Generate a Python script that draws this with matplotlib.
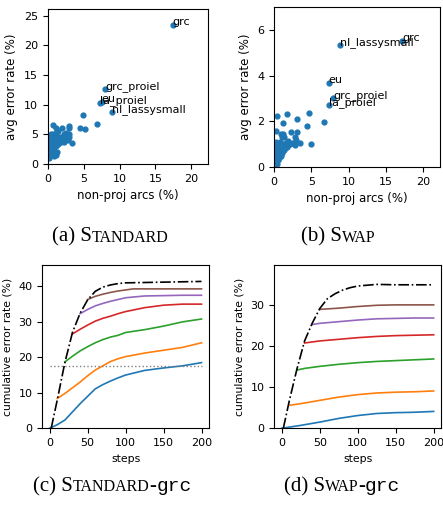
import matplotlib.pyplot as plt
from matplotlib.offsetbox import TextArea, HPacker, AnnotationBbox

# --- scatter data: non-projective arcs (%) vs avg error rate (%) ---
std_x = [17.4, 8.0, 7.3, 7.5, 8.9,
         4.9, 6.8, 4.5, 5.2, 0.66, 1.2, 2.0, 3.0, 2.9, 3.4,
         0.1, 0.2, 0.3, 0.15, 0.25, 0.1, 0.35, 0.3, 0.5, 0.55, 0.6, 0.5, 0.7, 0.65,
         0.8, 0.85, 0.9, 0.95, 1.0, 1.0, 1.1, 1.15, 1.2, 1.25, 1.1, 1.3, 1.4, 1.5,
         1.5, 1.6, 1.7, 1.8, 1.9, 2.0, 2.1, 2.2, 2.3, 2.4, 2.5, 2.6, 2.7, 2.8, 2.9,
         3.0, 0.4, 0.2, 0.75, 1.35]
std_y = [23.4, 12.6, 10.3, 10.5, 8.8,
         8.3, 6.7, 6.0, 5.95, 6.6, 6.0, 6.0, 6.4, 6.0, 3.5,
         1.0, 1.5, 2.2, 2.8, 3.3, 3.8, 4.2, 4.5, 1.8, 2.6, 3.1, 3.6, 4.0, 4.4,
         1.3, 2.2, 2.9, 3.5, 4.2, 4.8, 5.2, 3.0, 3.8, 4.5, 1.6, 2.1, 3.4, 4.1,
         4.6, 3.9, 4.4, 3.7, 4.6, 4.2, 4.5, 5.0, 3.8, 4.7, 4.3, 5.3, 4.6, 4.0, 5.0,
         4.5, 5.0, 4.0, 5.0, 5.5]
std_labels = {0: 'grc', 1: 'grc_proiel', 2: 'la_proiel', 3: 'eu', 4: 'nl_lassysmall'}

swap_x = [17.2, 8.8, 7.3, 7.9, 7.3,
          4.7, 6.7, 4.45, 5.0, 0.4, 1.75, 3.0, 1.15, 2.2, 3.0, 0.2, 0.9, 1.2, 1.0,
          1.35, 2.75, 2.9, 3.4, 2.65, 2.4, 2.85,
          2.1, 1.9, 1.7, 1.5, 1.25, 1.05, 0.8, 0.6, 0.4, 0.25,
          0.05, 0.05, 0.1, 0.05, 0.1, 0.15, 0.3, 0.5, 0.7, 0.9, 1.0, 0.6, 0.8,
          1.1, 1.3, 0.45, 0.2, 1.6, 1.9, 0.35, 0.0, 0.0]
swap_y = [5.5, 5.33, 3.68, 3.04, 2.71,
          2.35, 1.96, 1.81, 1.0, 2.22, 2.32, 2.09, 1.94, 1.55, 1.55, 1.6, 1.45, 1.43, 1.33,
          1.3, 1.33, 1.2, 1.07, 1.04, 1.04, 0.97,
          1.01, 0.97, 0.9, 0.83, 0.76, 0.69, 0.62, 0.55, 0.46, 0.33,
          0.1, 0.3, 0.5, 0.7, 0.9, 0.2, 0.6, 0.3, 0.4, 0.5, 0.8, 0.9, 1.1,
          0.6, 1.0, 0.7, 1.1, 1.05, 1.15, 0.15, 0.45, 0.05]
swap_labels = {0: 'grc', 1: 'nl_lassysmall', 2: 'eu', 3: 'grc_proiel', 4: 'la_proiel'}

# --- cumulative error rate curves for grc ---
std_env_x = [2, 10, 20, 30, 40, 50, 60, 70, 80, 90, 100, 125, 150, 175, 200]
std_env_y = [0, 8, 18.5, 27, 32.4, 36.2, 38.6, 39.8, 40.4, 40.8, 41.0, 41.1, 41.2, 41.3, 41.4]
std_curves = [
    ([0, 10, 20, 30, 40, 50, 60, 70, 80, 90, 100, 125, 150, 175, 200],
     [0, 1.0, 2.3, 4.6, 6.9, 9.0, 11.1, 12.3, 13.3, 14.2, 15.0, 16.3, 17.0, 17.6, 18.5]),
    ([10, 20, 30, 40, 50, 60, 70, 80, 90, 100, 125, 150, 175, 200],
     [8.4, 9.8, 11.4, 13.0, 14.8, 16.4, 17.6, 18.8, 19.6, 20.2, 21.2, 22.0, 22.8, 24.1]),
    ([20, 30, 40, 50, 60, 70, 80, 90, 100, 125, 150, 175, 200],
     [18.7, 20.3, 21.8, 23.0, 24.1, 25.0, 25.7, 26.2, 27.0, 27.8, 28.8, 30.0, 30.8]),
    ([30, 40, 50, 60, 70, 80, 90, 100, 125, 150, 175, 200],
     [26.6, 27.9, 29.1, 30.2, 31.0, 31.6, 32.3, 32.9, 34.0, 34.7, 35.0, 35.0]),
    ([40, 50, 60, 70, 80, 90, 100, 125, 150, 175, 200],
     [32.3, 33.5, 34.5, 35.2, 35.8, 36.3, 36.8, 37.3, 37.4, 37.5, 37.5]),
    ([50, 60, 70, 80, 90, 100, 110, 125, 150, 175, 200],
     [36.3, 37.2, 37.8, 38.3, 38.7, 39.0, 39.3, 39.3, 39.3, 39.3, 39.3]),
]
std_ref = 17.5

swap_env_x = [2, 10, 20, 30, 40, 50, 60, 70, 80, 90, 100, 125, 150, 175, 200]
swap_env_y = [0, 6.8, 14.5, 21.3, 25.6, 29.2, 31.6, 32.8, 33.7, 34.3, 34.7, 35.1, 35.0, 35.0, 35.0]
swap_curves = [
    ([0, 25, 50, 75, 100, 125, 150, 175, 200],
     [0, 0.7, 1.5, 2.4, 3.1, 3.6, 3.8, 3.9, 4.1]),
    ([10, 25, 50, 75, 100, 125, 150, 175, 200],
     [5.6, 6.0, 6.8, 7.6, 8.2, 8.6, 8.8, 8.9, 9.1]),
    ([20, 30, 50, 75, 100, 125, 150, 175, 200],
     [14.2, 14.6, 15.1, 15.6, 16.0, 16.3, 16.5, 16.7, 16.9]),
    ([30, 50, 75, 100, 125, 150, 175, 200],
     [20.8, 21.3, 21.7, 22.1, 22.4, 22.6, 22.7, 22.8]),
    ([40, 50, 75, 100, 125, 150, 175, 200],
     [25.3, 25.6, 26.0, 26.4, 26.7, 26.8, 26.9, 26.9]),
    ([50, 75, 100, 125, 150, 175, 200],
     [29.0, 29.3, 29.7, 30.0, 30.1, 30.1, 30.1]),
]

FS = 8.5
TFS = 8
plt.rcParams['font.size'] = FS

fig = plt.figure(figsize=(4.43, 5.05), dpi=100)

ax_a = fig.add_axes([0.108, 0.675, 0.361, 0.307])
ax_b = fig.add_axes([0.619, 0.669, 0.375, 0.317])
ax_c = fig.add_axes([0.095, 0.152, 0.377, 0.323])
ax_d = fig.add_axes([0.619, 0.152, 0.377, 0.323])


def scatter_panel(ax, xs, ys, labels, ylim, yticks):
    ax.scatter(xs, ys, s=12, color='C0')
    for i, name in labels.items():
        ax.annotate(name, (xs[i], ys[i]), fontsize=8)
    ax.set_xlim(0, 22.3)
    ax.set_ylim(*ylim)
    ax.set_xticks([0, 5, 10, 15, 20])
    ax.set_yticks(yticks)
    ax.set_xlabel('non-proj arcs (%)')
    ax.set_ylabel('avg error rate (%)')
    ax.tick_params(labelsize=TFS)


scatter_panel(ax_a, std_x, std_y, std_labels, (0, 26.1), [0, 5, 10, 15, 20, 25])
scatter_panel(ax_b, swap_x, swap_y, swap_labels, (0, 7), [0, 2, 4, 6])


def curve_panel(ax, env_x, env_y, curves, ylim, yticks):
    for i, (cx, cy) in enumerate(curves):
        ax.plot(cx, cy, color='C%d' % i, lw=1.2)
    ax.plot(env_x, env_y, 'k-.', lw=1.2)
    ax.set_xlim(-10, 210)
    ax.set_ylim(*ylim)
    ax.set_xticks([0, 50, 100, 150, 200])
    ax.set_yticks(yticks)
    ax.set_xlabel('steps', fontsize=7.8)
    ax.set_ylabel('cumulative error rate (%)', fontsize=7.8)
    ax.tick_params(labelsize=TFS)


curve_panel(ax_c, std_env_x, std_env_y, std_curves, (0, 46), [0, 10, 20, 30, 40])
ax_c.hlines(std_ref, 0, 200, colors='gray', linestyles=':', lw=1)
curve_panel(ax_d, swap_env_x, swap_env_y, swap_curves, (0, 39.8), [0, 10, 20, 30])


# captions with small caps
def caption(x, y, parts):
    boxes = []
    for txt, size, fam in parts:
        boxes.append(TextArea(txt, textprops=dict(fontsize=size, family=fam)))
    pack = HPacker(children=boxes, align='baseline', pad=0, sep=0)
    ab = AnnotationBbox(pack, (x, y), xycoords='figure fraction', frameon=False,
                        box_alignment=(0.5, 0.5), pad=0)
    fig.add_artist(ab)


serif = 'Liberation Serif'
mono = 'Liberation Mono'
caption(0.248, 0.530, [('(a) S', 15, serif), ('TANDARD', 11.5, serif)])
caption(0.763, 0.530, [('(b) S', 15, serif), ('WAP', 11.5, serif)])
caption(0.253, 0.036, [('(c) S', 15, serif), ('TANDARD', 11.5, serif), ('-', 15, serif),
                       ('grc', 14, mono)])
caption(0.772, 0.036, [('(d) S', 15, serif), ('WAP', 11.5, serif), ('-', 15, serif),
                       ('grc', 14, mono)])

plt.savefig('out.png', dpi=100)
